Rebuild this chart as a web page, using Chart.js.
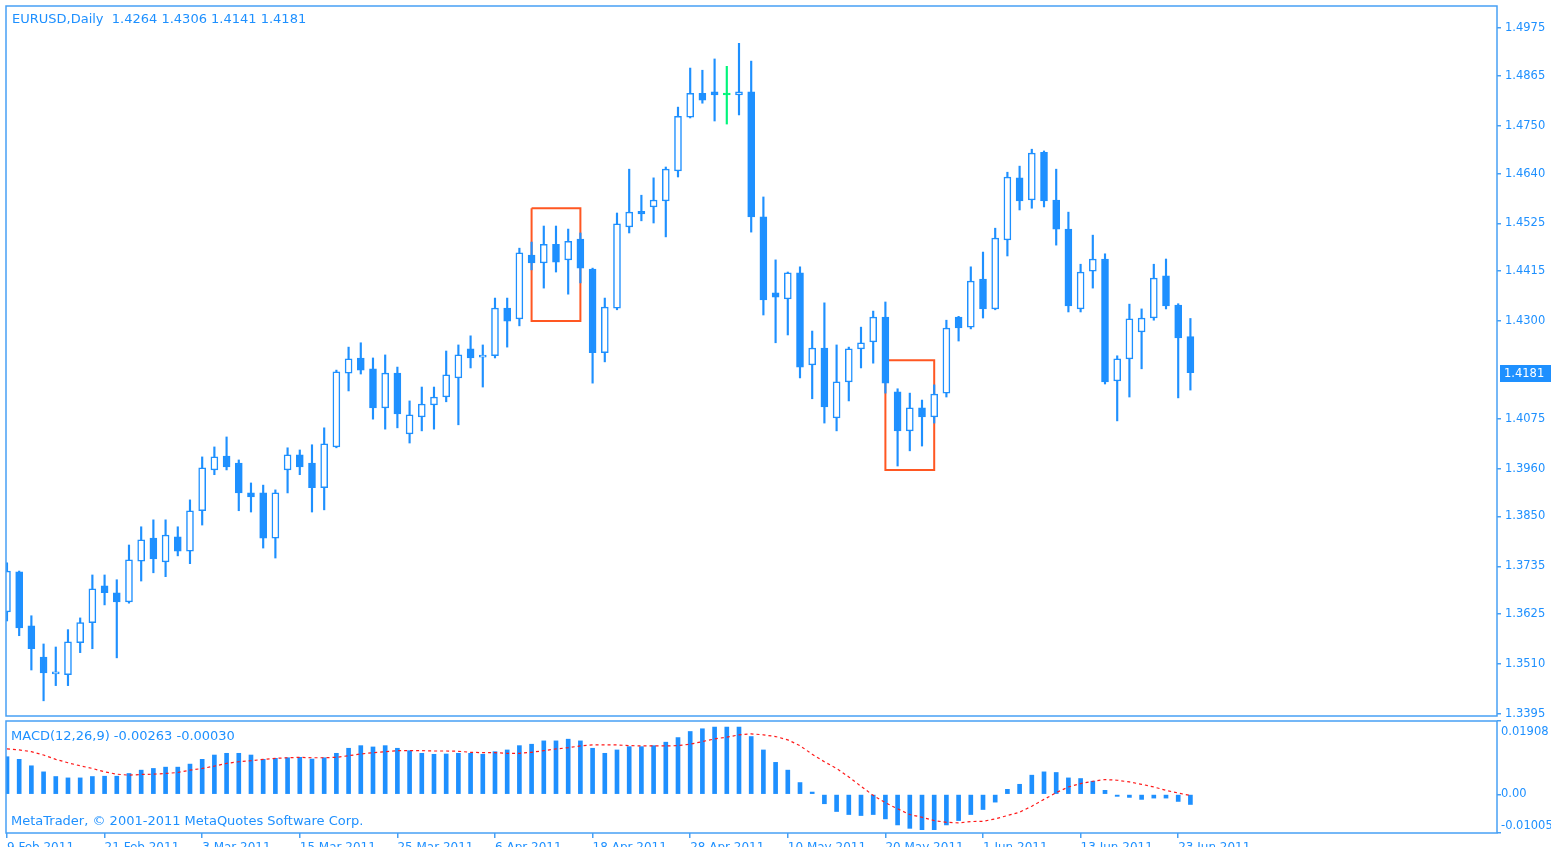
<!DOCTYPE html>
<html>
<head>
<meta charset="utf-8">
<title>EURUSD,Daily</title>
<script src="https://cdn.jsdelivr.net/npm/chart.js@4.4.0/dist/chart.umd.min.js"></script>
<style>
  html, body { margin: 0; padding: 0; background: #fff; overflow: hidden; }
  body { width: 1551px; height: 847px; position: relative; font-family: "DejaVu Sans", sans-serif; }
  canvas { position: absolute; left: 0; }
  #priceChart { top: 0; }
  #macdChart { top: 716px; }
  .caption { position: absolute; color: #1e90ff; font-size: 13px; white-space: pre; line-height: 16px; }
</style>
</head>
<body>
<canvas id="priceChart" width="1551" height="720"></canvas>
<canvas id="macdChart" width="1551" height="140"></canvas>
<div class="caption" id="priceCaption" style="left:12px; top:11px;"></div>
<div class="caption" id="macdCaption" style="left:11px; top:728px;"></div>
<div class="caption" style="left:11px; top:813px;">MetaTrader, © 2001-2011 MetaQuotes Software Corp.</div>
<script>
let symbol = "EURUSD,Daily";

// daily bars, 9 Feb 2011 .. 24 Jun 2011
let open = [1.3630, 1.3722, 1.3598, 1.3526, 1.3487, 1.3485, 1.3559, 1.3605, 1.3690, 1.3674,
  1.3653, 1.3747, 1.3800, 1.3745, 1.3803, 1.3770, 1.3863, 1.3957, 1.3989, 1.3973,
  1.3904, 1.3904, 1.3800, 1.3957, 1.3992, 1.3973, 1.3916, 1.4010, 1.4180, 1.4215,
  1.4190, 1.4100, 1.4180, 1.4040, 1.4079, 1.4107, 1.4125, 1.4169, 1.4236, 1.4217,
  1.4220, 1.4330, 1.4305, 1.4452, 1.4434, 1.4477, 1.4441, 1.4489, 1.4420, 1.4227,
  1.4330, 1.4517, 1.4553, 1.4563, 1.4577, 1.4646, 1.4770, 1.4825, 1.4828, 1.4821,
  1.4821, 1.4828, 1.4540, 1.4365, 1.4351, 1.4411, 1.4199, 1.4238, 1.4077, 1.4160,
  1.4236, 1.4252, 1.4309, 1.4137, 1.4047, 1.4100, 1.4079, 1.4134, 1.4309, 1.4286,
  1.4397, 1.4328, 1.4487, 1.4630, 1.4579, 1.4689, 1.4579, 1.4512, 1.4328, 1.4415,
  1.4443, 1.4162, 1.4213, 1.4275, 1.4307, 1.4404, 1.4337, 1.4264];
let high = [1.3743, 1.3724, 1.3621, 1.3556, 1.3549, 1.3589, 1.3616, 1.3715, 1.3715, 1.3704,
  1.3784, 1.3826, 1.3842, 1.3842, 1.3826, 1.3888, 1.3987, 1.4010, 1.4033, 1.3980,
  1.3927, 1.3922, 1.3911, 1.4008, 1.4003, 1.4015, 1.4054, 1.4187, 1.4240, 1.4250,
  1.4215, 1.4222, 1.4194, 1.4116, 1.4148, 1.4148, 1.4231, 1.4245, 1.4266, 1.4245,
  1.4353, 1.4353, 1.4468, 1.4482, 1.4519, 1.4519, 1.4512, 1.4503, 1.4422, 1.4353,
  1.4549, 1.4650, 1.4590, 1.4630, 1.4655, 1.4793, 1.4883, 1.4878, 1.4904, 1.4887,
  1.4940, 1.4899, 1.4586, 1.4441, 1.4413, 1.4425, 1.4277, 1.4342, 1.4245, 1.4240,
  1.4286, 1.4323, 1.4344, 1.4144, 1.4134, 1.4118, 1.4153, 1.4302, 1.4311, 1.4425,
  1.4459, 1.4514, 1.4643, 1.4657, 1.4696, 1.4692, 1.4650, 1.4551, 1.4431, 1.4498,
  1.4455, 1.4220, 1.4339, 1.4328, 1.4431, 1.4443, 1.4340, 1.4306];
let low = [1.3609, 1.3575, 1.3496, 1.3425, 1.3460, 1.3460, 1.3536, 1.3545, 1.3646, 1.3524,
  1.3650, 1.3701, 1.3720, 1.3711, 1.3759, 1.3741, 1.3830, 1.3946, 1.3957, 1.3863,
  1.3860, 1.3777, 1.3754, 1.3904, 1.3946, 1.3860, 1.3865, 1.4008, 1.4139, 1.4178,
  1.4074, 1.4051, 1.4054, 1.4019, 1.4047, 1.4051, 1.4114, 1.4061, 1.4192, 1.4148,
  1.4215, 1.4240, 1.4289, 1.4418, 1.4376, 1.4413, 1.4362, 1.4388, 1.4157, 1.4206,
  1.4326, 1.4503, 1.4531, 1.4526, 1.4494, 1.4632, 1.4768, 1.4802, 1.4761, 1.4754,
  1.4775, 1.4505, 1.4314, 1.4250, 1.4268, 1.4169, 1.4121, 1.4065, 1.4047, 1.4116,
  1.4192, 1.4203, 1.4134, 1.3966, 1.4001, 1.4012, 1.4065, 1.4125, 1.4254, 1.4282,
  1.4307, 1.4326, 1.4450, 1.4556, 1.4560, 1.4563, 1.4475, 1.4321, 1.4321, 1.4376,
  1.4155, 1.4070, 1.4125, 1.4190, 1.4302, 1.4328, 1.4123, 1.4141];
let close = [1.3724, 1.3593, 1.3545, 1.3489, 1.3489, 1.3561, 1.3605, 1.3683, 1.3674, 1.3653,
  1.3750, 1.3796, 1.3752, 1.3807, 1.3770, 1.3863, 1.3962, 1.3987, 1.3964, 1.3904,
  1.3895, 1.3800, 1.3904, 1.3992, 1.3964, 1.3916, 1.4017, 1.4183, 1.4213, 1.4187,
  1.4100, 1.4180, 1.4086, 1.4084, 1.4109, 1.4125, 1.4176, 1.4222, 1.4215, 1.4218,
  1.4330, 1.4300, 1.4457, 1.4434, 1.4477, 1.4436, 1.4484, 1.4422, 1.4227, 1.4332,
  1.4524, 1.4551, 1.4547, 1.4579, 1.4650, 1.4772, 1.4825, 1.4809, 1.4821, 1.4821,
  1.4828, 1.4540, 1.4349, 1.4355, 1.4411, 1.4194, 1.4238, 1.4102, 1.4160, 1.4236,
  1.4250, 1.4309, 1.4157, 1.4047, 1.4100, 1.4079, 1.4132, 1.4284, 1.4284, 1.4392,
  1.4328, 1.4491, 1.4632, 1.4577, 1.4687, 1.4577, 1.4512, 1.4335, 1.4413, 1.4443,
  1.4160, 1.4213, 1.4305, 1.4307, 1.4399, 1.4335, 1.4261, 1.4181];

// MACD(12,26,9): main values (histogram) and signal
let macdMain = [0.00979, 0.00911, 0.00743, 0.00585, 0.00464, 0.00428, 0.00428, 0.00464, 0.00472, 0.00472,
  0.00543, 0.00630, 0.00674, 0.00708, 0.00708, 0.00787, 0.00911, 0.01023, 0.01068, 0.01068,
  0.01023, 0.00911, 0.00937, 0.00952, 0.00963, 0.00918, 0.00952, 0.01068, 0.01199, 0.01267,
  0.01233, 0.01267, 0.01199, 0.01136, 0.01068, 0.01042, 0.01050, 0.01068, 0.01068, 0.01042,
  0.01110, 0.01155, 0.01267, 0.01304, 0.01391, 0.01391, 0.01435, 0.01391, 0.01199, 0.01068,
  0.01155, 0.01241, 0.01241, 0.01267, 0.01357, 0.01477, 0.01635, 0.01706, 0.01750, 0.01750,
  0.01750, 0.01504, 0.01155, 0.00832, 0.00630, 0.00307, 0.00060, -0.00244, -0.00446, -0.00525,
  -0.00551, -0.00525, -0.00638, -0.00795, -0.00884, -0.00918, -0.00918, -0.00795, -0.00682, -0.00525,
  -0.00394, -0.00202, 0.00131, 0.00262, 0.00499, 0.00585, 0.00569, 0.00428, 0.00412, 0.00341,
  0.00105, -0.00052, -0.00079, -0.00131, -0.00097, -0.00097, -0.00184, -0.00263];
let macdSignal = [0.01181, 0.01155, 0.01110, 0.01023, 0.00911, 0.00821, 0.00743, 0.00674, 0.00585, 0.00525,
  0.00499, 0.00517, 0.00525, 0.00543, 0.00569, 0.00630, 0.00674, 0.00735, 0.00806, 0.00848,
  0.00874, 0.00911, 0.00937, 0.00952, 0.00963, 0.00952, 0.00952, 0.00963, 0.01005, 0.01050,
  0.01084, 0.01110, 0.01136, 0.01136, 0.01136, 0.01128, 0.01128, 0.01120, 0.01094, 0.01084,
  0.01084, 0.01068, 0.01068, 0.01094, 0.01136, 0.01181, 0.01215, 0.01260, 0.01286, 0.01286,
  0.01286, 0.01267, 0.01260, 0.01260, 0.01260, 0.01267, 0.01304, 0.01372, 0.01443, 0.01488,
  0.01548, 0.01574, 0.01548, 0.01504, 0.01417, 0.01267, 0.01042, 0.00848, 0.00674, 0.00454,
  0.00210, -0.00026, -0.00218, -0.00375, -0.00525, -0.00596, -0.00682, -0.00727, -0.00743, -0.00708,
  -0.00701, -0.00638, -0.00551, -0.00464, -0.00307, -0.00131, 0.00045, 0.00192, 0.00281, 0.00341,
  0.00386, 0.00367, 0.00323, 0.00262, 0.00192, 0.00105, 0.00034, -0.00030];

// time axis labels (every 8th bar)
let dateTicks = [0, 8, 16, 24, 32, 40, 48, 56, 64, 72, 80, 88, 96];
let dateLabels = ["9 Feb 2011", "21 Feb 2011", "3 Mar 2011", "15 Mar 2011", "25 Mar 2011", "6 Apr 2011",
  "18 Apr 2011", "28 Apr 2011", "10 May 2011", "20 May 2011", "1 Jun 2011", "13 Jun 2011", "23 Jun 2011"];

// price scale labels
let priceTicks = [1.4975, 1.4865, 1.4750, 1.4640, 1.4525, 1.4415, 1.4300, 1.4075, 1.3960, 1.3850, 1.3735, 1.3625, 1.3510, 1.3395];
let macdTicks = [0.01908, 0, -0.01005];
let macdLabels = ["0.01908", "0.00", "-0.01005"];

// marked zones: [first bar, last bar, top price, bottom price]
let boxes = [[43, 47, 1.4560, 1.4300], [72, 76, 1.4210, 1.3957]];

let blue = "#1e90ff";
let frameBlue = "#47a0f5";
let dojiGreen = "#00f57a";
let boxRed = "#ff5722";
let axisFont = "11.5px 'DejaVu Sans'";

let xMin = -0.08;
let xMax = 122.13;
let last = close.length - 1;
let idx = close.map((c, i) => i);

Chart.defaults.font.family = "'DejaVu Sans', sans-serif";

document.getElementById("priceCaption").textContent =
  symbol + "  " + [open[last], high[last], low[last], close[last]].map(v => v.toFixed(4)).join(" ");
document.getElementById("macdCaption").textContent =
  "MACD(12,26,9) " + macdMain[last].toFixed(5) + " " + macdSignal[last].toFixed(5);

// fixed axis box, no extra room for half labels
function fixSide(s) {
  s.width = 54;
  s.paddingTop = 0;
  s.paddingBottom = 0;
}

// blue frame around a pane
let paneFrame = {
  id: "paneFrame",
  afterDraw(chart) {
    let a = chart.chartArea, c = chart.ctx;
    c.save();
    c.strokeStyle = frameBlue;
    c.lineWidth = 1.5;
    c.strokeRect(a.left, a.top, a.right - a.left, a.bottom - a.top);
    c.restore();
  }
};

// last close marker on the price scale
let lastPriceTag = {
  id: "lastPriceTag",
  afterDraw(chart) {
    let y = Math.round(chart.scales.y.getPixelForValue(close[last]));
    let x = chart.chartArea.right + 3;
    let c = chart.ctx;
    c.save();
    c.fillStyle = blue;
    c.fillRect(x, y - 8, 54, 17);
    c.fillStyle = "#fff";
    c.font = axisFont;
    c.textBaseline = "middle";
    c.fillText(close[last].toFixed(4), x + 4, y + 1);
    c.restore();
  }
};

// MACD scale labels sit inside the pane edges like in the terminal
let macdScaleLabels = {
  id: "macdScaleLabels",
  afterDraw(chart) {
    let a = chart.chartArea, c = chart.ctx, s = chart.scales.y;
    let x = a.right + 4;
    c.save();
    c.fillStyle = blue;
    c.font = axisFont;
    c.textBaseline = "top";
    c.fillText(macdLabels[0], x, a.top + 5);
    c.textBaseline = "middle";
    c.fillText(macdLabels[1], x, s.getPixelForValue(macdTicks[1]));
    c.textBaseline = "bottom";
    c.fillText(macdLabels[2], x, a.bottom - 1);
    c.restore();
  }
};

let priceCtx = document.getElementById("priceChart").getContext("2d");

let priceChart = new Chart(priceCtx, {
  type: "bar",
  data: {
    datasets: [
      {
        label: "Body",
        data: idx.map(i => ({ x: i, y: [open[i], close[i]] })),
        backgroundColor: idx.map(i => close[i] < open[i] ? blue : close[i] > open[i] ? "#ffffff" : dojiGreen),
        borderColor: idx.map(i => close[i] === open[i] ? dojiGreen : blue),
        borderWidth: 1.5,
        borderSkipped: false,
        barThickness: 7,
        minBarLength: 2,
        grouped: false,
        clip: 0,
        order: 0,
      },
      {
        label: "Wick",
        data: idx.map(i => ({ x: i, y: [low[i], high[i]] })),
        backgroundColor: idx.map(i => close[i] === open[i] ? dojiGreen : blue),
        borderWidth: 0,
        barThickness: 1.5,
        grouped: false,
        clip: 0,
        order: 1,
      },
      ...boxes.map(b => ({
        type: "line",
        label: "Zone",
        data: [{ x: b[0], y: b[2] }, { x: b[1], y: b[2] }, { x: b[1], y: b[3] }, { x: b[0], y: b[3] }, { x: b[0], y: b[2] }],
        borderColor: boxRed,
        borderWidth: 2,
        pointRadius: 0,
        fill: false,
        tension: 0,
        order: 2,
      })),
    ],
  },
  options: {
    responsive: false,
    animation: false,
    events: [],
    layout: {
      padding: { left: 6, top: 6, right: 0, bottom: 4 },
    },
    plugins: {
      legend: { display: false },
      tooltip: { enabled: false },
    },
    scales: {
      x: {
        type: "linear",
        min: xMin,
        max: xMax,
        bounds: "data",
        offset: false,
        display: false,
        grid: { offset: false },
      },
      y: {
        position: "right",
        min: 1.3390,
        max: 1.5026,
        bounds: "data",
        afterFit: fixSide,
        afterBuildTicks: s => { s.ticks = priceTicks.map(v => ({ value: v })); },
        ticks: {
          color: blue,
          font: { size: 11.5 },
          padding: 4,
          callback: v => v.toFixed(4),
        },
        grid: { drawOnChartArea: false, tickLength: 4, color: frameBlue, lineWidth: 1.5 },
        border: { display: false },
      },
    },
  },
  plugins: [paneFrame, lastPriceTag],
});

let macdCtx = document.getElementById("macdChart").getContext("2d");

let macdChart = new Chart(macdCtx, {
  type: "bar",
  data: {
    datasets: [
      {
        type: "line",
        label: "Signal",
        data: idx.map(i => ({ x: i, y: macdSignal[i] })),
        borderColor: "#ff1a1a",
        borderWidth: 1.2,
        borderDash: [3, 3],
        pointRadius: 0,
        fill: false,
        tension: 0,
        order: 0,
      },
      {
        label: "MACD",
        data: idx.map(i => ({ x: i, y: macdMain[i] })),
        backgroundColor: blue,
        borderWidth: 0,
        barThickness: 4,
        clip: 0,
        order: 1,
      },
    ],
  },
  options: {
    responsive: false,
    animation: false,
    events: [],
    layout: {
      padding: { left: 6, top: 5, right: 0, bottom: 0 },
    },
    plugins: {
      legend: { display: false },
      tooltip: { enabled: false },
    },
    scales: {
      x: {
        type: "linear",
        min: xMin,
        max: xMax,
        bounds: "data",
        offset: false,
        afterFit: s => { s.height = 23; },
        afterBuildTicks: s => { s.ticks = dateTicks.map(v => ({ value: v })); },
        ticks: {
          color: blue,
          align: "start",
          padding: 3,
          maxRotation: 0,
          autoSkip: false,
          font: { size: 12 },
          callback: (v, i) => dateLabels[i],
        },
        grid: { drawOnChartArea: false, tickLength: 5, color: frameBlue, lineWidth: 1.5, offset: false },
        border: { display: false },
      },
      y: {
        position: "right",
        min: -0.01005,
        max: 0.01908,
        bounds: "data",
        afterFit: fixSide,
        afterBuildTicks: s => { s.ticks = macdTicks.map(v => ({ value: v })); },
        ticks: { display: false },
        grid: { drawOnChartArea: false, tickLength: 4, color: frameBlue, lineWidth: 1.5 },
        border: { display: false },
      },
    },
  },
  plugins: [paneFrame, macdScaleLabels],
});
</script>
</body>
</html>
